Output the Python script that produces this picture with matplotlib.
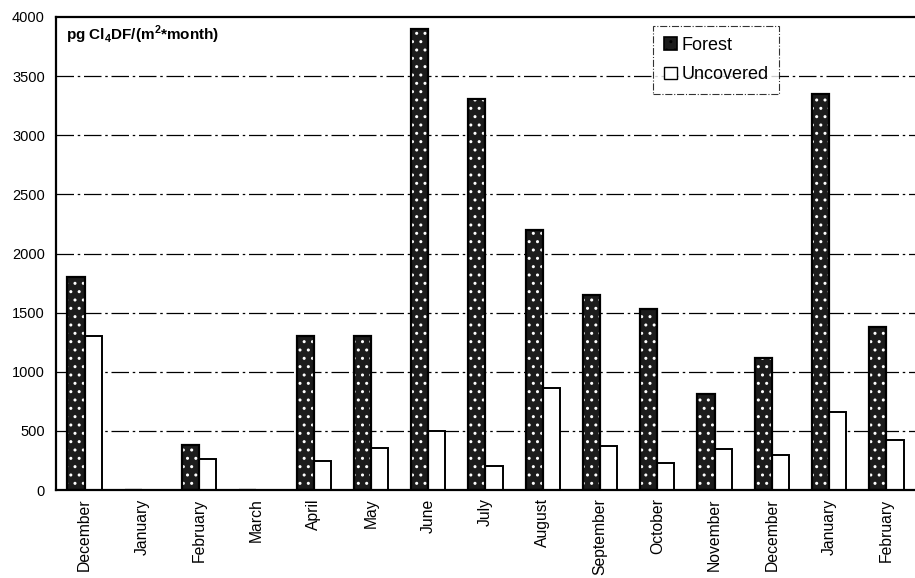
import numpy as np
import matplotlib.pyplot as plt
from matplotlib.patches import Patch

plt.rcParams['font.family'] = ['Liberation Sans', 'DejaVu Sans']
plt.rcParams['mathtext.fontset'] = 'custom'
plt.rcParams['mathtext.rm'] = 'Liberation Sans:bold'
plt.rcParams['mathtext.bf'] = 'Liberation Sans:bold'

months = ['December', 'January', 'February', 'March', 'April', 'May', 'June',
          'July', 'August', 'September', 'October', 'November', 'December',
          'January', 'February']
forest = [1800, 0, 380, 0, 1300, 1300, 3900, 3310, 2200, 1650, 1530, 810,
          1120, 3350, 1380]
uncovered = [1300, 0, 260, 0, 250, 360, 500, 200, 860, 370, 230, 350, 300,
             660, 420]

fig = plt.figure(figsize=(9.15, 5.78), dpi=100)
ax = fig.add_axes([0.0612, 0.152, 0.9388, 0.8188])

x = np.arange(len(months))
w = 0.30

# gridlines behind the bars
for yv in range(500, 4000, 500):
    ax.axhline(yv, color='black', lw=0.9, ls=(0, (14, 3, 2, 3)), zorder=0)

# forest bars: dark fill with white speckle, then black outline
ax.bar(x - w / 2, forest, w, color='#1c1c1c', edgecolor='white', hatch='..',
       lw=0, zorder=2)
ax.bar(x - w / 2, forest, w, fill=False, edgecolor='black', lw=1.6, zorder=3)
ax.bar(x + w / 2, uncovered, w, color='white', edgecolor='black', lw=1.4,
       zorder=2)

ax.set_xlim(-0.5, len(months) - 0.5)
ax.set_ylim(0, 4000)
ax.set_yticks(range(0, 4001, 500))
ax.set_xticks(x)
ax.set_xticklabels(months, rotation=90, fontsize=11.3)
ax.tick_params(axis='y', length=0, labelsize=10.5, pad=8)
ax.tick_params(axis='x', length=0, pad=6)

for side in ['left', 'bottom', 'top']:
    ax.spines[side].set_linewidth(1.6)
ax.spines['right'].set_visible(False)

ax.text(0.012, 0.985, r'pg Cl$_{4}$DF/(m$^{2}$*month)', transform=ax.transAxes,
        fontsize=11, fontweight='bold', va='top', ha='left')

# legend proxies
handles = [Patch(facecolor='#1c1c1c', edgecolor='black', hatch='..', lw=1.2,
                 label='Forest'),
           Patch(facecolor='white', edgecolor='black', lw=1.0,
                 label='Uncovered')]
leg = ax.legend(handles=handles, loc='upper left',
                bbox_to_anchor=(0.685, 1.0), fontsize=13, frameon=True,
                fancybox=False, handlelength=0.7, handleheight=0.7,
                handletextpad=0.25, labelspacing=0.7, borderpad=0.6)
leg.get_frame().set_edgecolor('black')
leg.get_frame().set_linewidth(0.8)
leg.get_frame().set_linestyle('-.')

fig.savefig('out.png', dpi=100)
